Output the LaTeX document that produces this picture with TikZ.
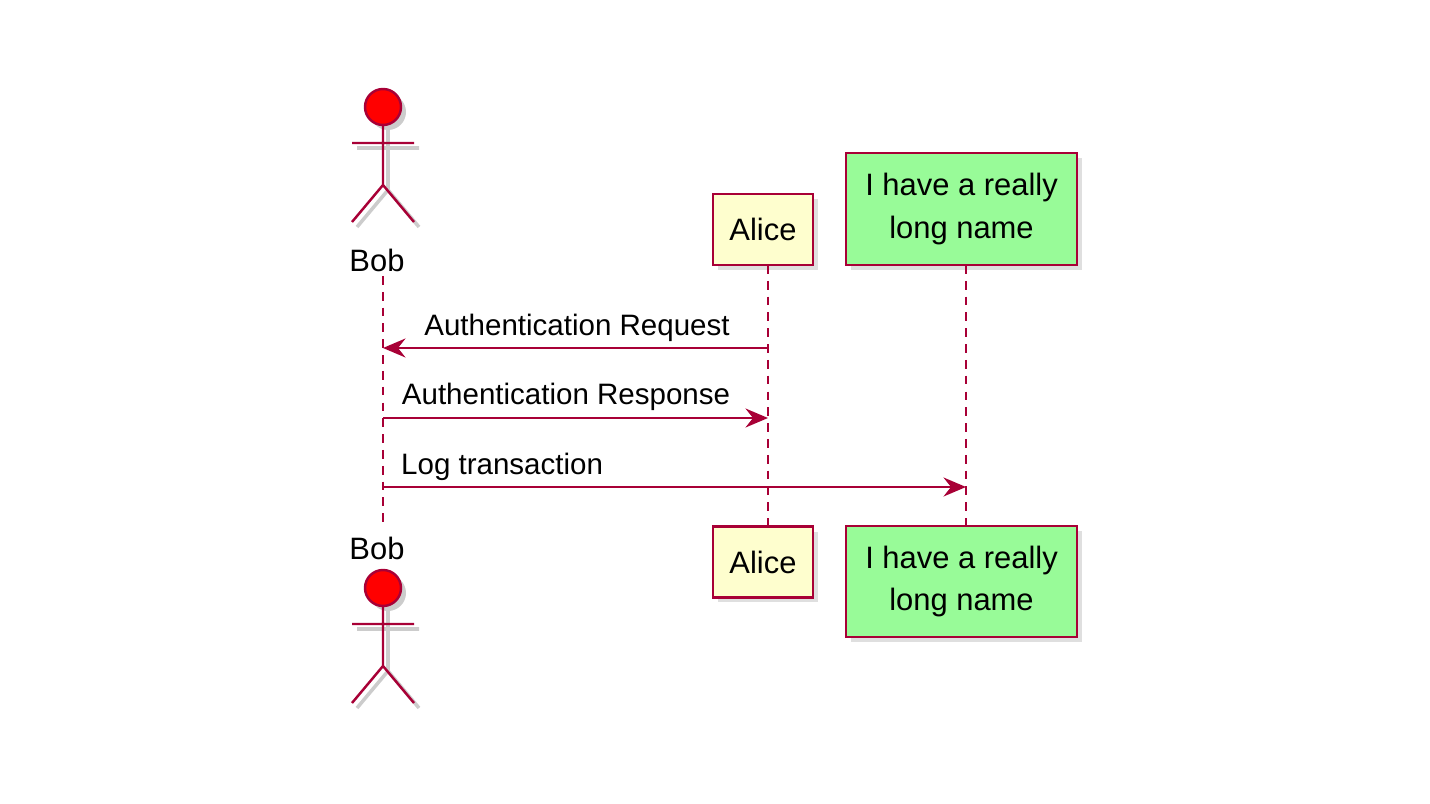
\documentclass[tikz,border=0pt]{standalone}
\usepackage{fontspec}
\setmainfont{Liberation Sans}
\usetikzlibrary{arrows.meta,shadows}
\definecolor{umlred}{HTML}{A80036}
\definecolor{umlyellow}{HTML}{FEFECE}
\definecolor{umlgreen}{HTML}{98FB98}
\tikzset{
  box/.style={draw=umlred,line width=1.2pt,minimum height=1.42cm,align=center,
    font=\fontsize{17.6}{24}\selectfont,inner xsep=0.3cm,
    drop shadow={shadow xshift=0.1cm,shadow yshift=-0.1cm,fill=black!25}},
  life/.style={draw=umlred,line width=1pt,dash pattern=on 5pt off 4pt},
  msg/.style={draw=umlred,line width=1.2pt,-{Stealth[length=0.45cm,width=0.38cm,inset=0.15cm]}},
  lbl/.style={font=\fontsize{16.8}{20}\selectfont},
}
\begin{document}
\begin{tikzpicture}[x=0.02cm,y=-0.02cm]
\useasboundingbox (0,0) rectangle (1430,804);

% actor
\newcommand{\bobactor}[2]{%
  \begin{scope}[shift={(#1+5,#2+5)}]
    \draw[black!20,line width=2pt] (0,0) -- (0,60) (-31,18) -- (31,18) (0,60) -- (-31,97) (0,60) -- (31,97);
    \fill[black!20] (0,-18) circle (18);
  \end{scope}
  \begin{scope}[shift={(#1,#2)}]
    \draw[umlred,line width=1.4pt] (0,0) -- (0,60) (-31,18) -- (31,18) (0,60) -- (-31,97) (0,60) -- (31,97);
    \filldraw[fill=red,draw=umlred,line width=1.4pt] (0,-18) circle (18);
  \end{scope}}
\bobactor{383}{125}
\bobactor{383}{606}

% participants
\node[font=\fontsize{17.6}{20}\selectfont] (bobT) at (377,260) {Bob};
\node[font=\fontsize{17.6}{20}\selectfont] (bobB) at (377,548) {Bob};
\node[box,fill=umlyellow,minimum width=2cm] (aliceT) at (763,229.5) {Alice};
\node[box,fill=umlyellow,minimum width=2cm] (aliceB) at (763,562) {Alice};
\node[box,fill=umlgreen,minimum width=4.62cm,minimum height=2.24cm] (longT) at (961.5,209) {I have a really\\long name};
\node[box,fill=umlgreen,minimum width=4.62cm,minimum height=2.22cm] (longB) at (961.5,581.5) {I have a really\\long name};

% lifelines
\coordinate (bobS) at (383,276);
\coordinate (bobE) at (383,526);
\coordinate (aliceS) at (768,265);
\coordinate (aliceE) at (768,526);
\coordinate (longS) at (966,265);
\coordinate (longE) at (966,526);
\draw[life] (bobS) -- (bobE);
\draw[life] (aliceS) -- (aliceE);
\draw[life] (longS) -- (longE);

% messages
\coordinate (m1a) at (768,348); \coordinate (m1b) at (383,348);
\coordinate (m2a) at (383,418); \coordinate (m2b) at (768,418);
\coordinate (m3a) at (383,487); \coordinate (m3b) at (966,487);
\draw[msg] (m1a) -- (m1b);
\node[lbl] (l1) at (577,328) {Authentication Request};
\draw[msg] (m2a) -- (m2b);
\node[lbl] (l2) at (566,397) {Authentication Response};
\draw[msg] (m3a) -- (m3b);
\node[lbl,anchor=west] (l3) at (395,467) {Log transaction};
\end{tikzpicture}
\end{document}
